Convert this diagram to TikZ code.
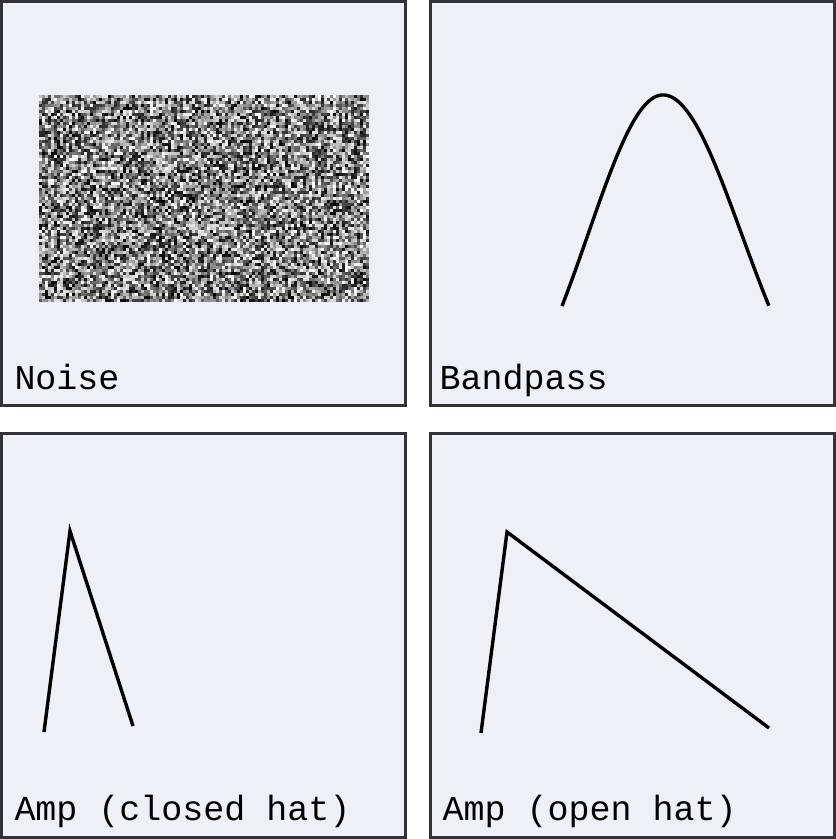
\documentclass[tikz,border=0pt]{standalone}
\usepackage{fontspec}
\setmonofont{Liberation Mono}
\usepackage{xcolor}
\definecolor{panelbg}{RGB}{239,240,245}
\definecolor{panelframe}{RGB}{50,50,55}

\begin{document}
\begin{tikzpicture}[x=1pt, y=-1pt, line width=3pt,
  panel/.style={draw=panelframe, fill=panelbg, line width=3pt},
  curve/.style={black, line width=3.4pt, line join=miter},
  lbl/.style={anchor=base west, inner sep=0pt, font=\ttfamily\fontsize{35}{40}\selectfont}]
  \useasboundingbox (0,0) rectangle (836,839);
  % panels
  \draw[panel] (1.5,1.5) rectangle (405.5,405.5);
  \draw[panel] (430,1.5) rectangle (834.5,405.5);
  \draw[panel] (1.5,433) rectangle (405.5,837.5);
  \draw[panel] (430,433) rectangle (834.5,837.5);
  % noise
  \pgfmathsetseed{7}
  \foreach \i in {0,...,109}{
    \foreach \j in {0,...,68}{
      \pgfmathrandominteger{\g}{0}{100}
      \pgfmathsetmacro{\px}{39+3*\i}
      \pgfmathsetmacro{\py}{95+3*\j}
      \fill[black!\g] (\px,\py) rectangle ++(3,3);
    }
  }
  % bandpass
  \draw[curve] plot[domain=-1:1, samples=100, smooth]
    ({663+(\x<0 ? 101 : 106)*\x}, {95+211*(1-exp(-0.912*\x*\x))/(1-exp(-0.912))});
  % closed hat envelope
  \draw[curve] (44,732) -- (70,531) -- (133,726);
  % open hat envelope
  \draw[curve] (481,733) -- (507,532) -- (769,728);
  % labels
  \node[lbl] (noiselbl) at (13,389) {Noise};
  \node[lbl] (bandlbl) at (438,389) {Bandpass};
  \node[lbl] (closedlbl) at (13,820) {Amp (closed hat)};
  \node[lbl] (openlbl) at (441,820) {Amp (open hat)};
\end{tikzpicture}
\end{document}
